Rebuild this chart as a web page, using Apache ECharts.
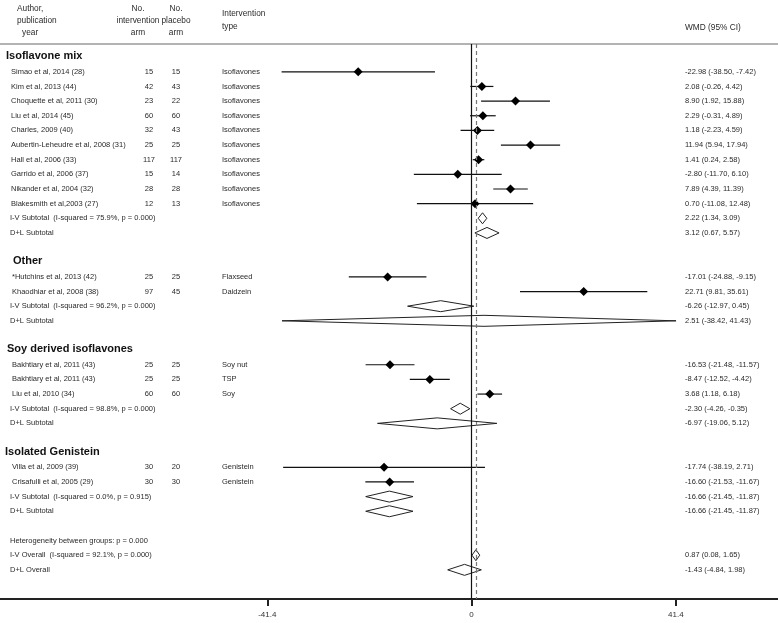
<!DOCTYPE html>
<html>
<head>
<meta charset="utf-8">
<script src="https://cdn.jsdelivr.net/npm/echarts@6/dist/echarts.min.js"></script>
<style>html,body{margin:0;padding:0;background:#fff}#c{width:778px;height:623px}</style>
</head>
<body>
<div id="c"></div>
<script>
// ---------- data ----------
const groups = ['Isoflavone mix', 'Other', 'Soy derived isoflavones', 'Isolated Genistein'];
const studyGroup = [0,0,0,0,0,0,0,0,0,0, 1,1, 2,2,2, 3,3];
const studyLabels = [
  'Simao et al, 2014 (28)', 'Kim et al, 2013 (44)', 'Choquette et al, 2011 (30)', 'Liu et al, 2014 (45)',
  'Charles, 2009 (40)', 'Aubertin-Leheudre et al, 2008 (31)', 'Hall et al, 2006 (33)', 'Garrido et al, 2006 (37)',
  'Nikander et al, 2004 (32)', 'Blakesmith et al,2003 (27)',
  '*Hutchins et al, 2013 (42)', 'Khaodhiar et al, 2008 (38)',
  'Bakhtiary et al, 2011 (43)', 'Bakhtiary et al, 2011 (43)', 'Liu et al, 2010 (34)',
  'Villa et al, 2009 (39)', 'Crisafulli et al, 2005 (29)'
];
const nIntervention = [15,42,23,60,32,25,117,15,28,12, 25,97, 25,25,60, 30,30];
const nPlacebo      = [15,43,22,60,43,25,117,14,28,13, 25,45, 25,25,60, 20,30];
const interventionType = ['Isoflavones','Isoflavones','Isoflavones','Isoflavones','Isoflavones','Isoflavones',
  'Isoflavones','Isoflavones','Isoflavones','Isoflavones','Flaxseed','Daidzein','Soy nut','TSP','Soy','Genistein','Genistein'];
const wmd    = [-22.98, 2.08, 8.90, 2.29, 1.18, 11.94, 1.41, -2.80, 7.89, 0.70, -17.01, 22.71, -16.53, -8.47, 3.68, -17.74, -16.60];
const ciLow  = [-38.50, -0.26, 1.92, -0.31, -2.23, 5.94, 0.24, -11.70, 4.39, -11.08, -24.88, 9.81, -21.48, -12.52, 1.18, -38.19, -21.53];
const ciHigh = [-7.42, 4.42, 15.88, 4.89, 4.59, 17.94, 2.58, 6.10, 11.39, 12.48, -9.15, 35.61, -11.57, -4.42, 6.18, 2.71, -11.67];

const ivLabels = ['I-V Subtotal  (I-squared = 75.9%, p = 0.000)', 'I-V Subtotal  (I-squared = 96.2%, p = 0.000)',
  'I-V Subtotal  (I-squared = 98.8%, p = 0.000)', 'I-V Subtotal  (I-squared = 0.0%, p = 0.915)'];
const ivEst  = [2.22, -6.26, -2.30, -16.66];
const ivLow  = [1.34, -12.97, -4.26, -21.45];
const ivHigh = [3.09, 0.45, -0.35, -11.87];
const dlLabel = 'D+L Subtotal';
const dlEst  = [3.12, 2.51, -6.97, -16.66];
const dlLow  = [0.67, -38.42, -19.06, -21.45];
const dlHigh = [5.57, 41.43, 5.12, -11.87];

const heterogeneityText = 'Heterogeneity between groups: p = 0.000';
const overallIVLabel = 'I-V Overall  (I-squared = 92.1%, p = 0.000)';
const overallIV = [0.87, 0.08, 1.65];
const overallDLLabel = 'D+L Overall';
const overallDL = [-1.43, -4.84, 1.98];

const xTicks = [-41.4, 0, 41.4];
const headerAuthor = ['Author,', 'publication', 'year'];
const headerInt = ['No.', 'intervention', 'arm'];
const headerPla = ['No.', 'placebo', 'arm'];
const headerType = ['Intervention', 'type'];
const headerWMD = 'WMD (95% CI)';

// layout only (not data)
const headingX = [6, 13, 7, 5];

// ---------- build table rows ----------
const fmt = v => v.toFixed(2);
const ciText = (e, l, h) => `${fmt(e)} (${fmt(l)}, ${fmt(h)})`;
const headings = [], studyRows = [], summaryRows = [], textRows = [];
let r = -1;
groups.forEach((g, gi) => {
  headings.push({ row: r, text: g, gi }); r++;
  studyGroup.forEach((sg, i) => {
    if (sg !== gi) return;
    studyRows.push([wmd[i], ciLow[i], ciHigh[i], r, 0]);
    textRows.push({ row: r, label: studyLabels[i], ni: nIntervention[i], np: nPlacebo[i], type: interventionType[i], ci: ciText(wmd[i], ciLow[i], ciHigh[i]), indent: gi === 0 ? 11 : 12 });
    r++;
  });
  summaryRows.push([ivEst[gi], ivLow[gi], ivHigh[gi], r, 1]);
  textRows.push({ row: r, label: ivLabels[gi], ci: ciText(ivEst[gi], ivLow[gi], ivHigh[gi]) }); r++;
  summaryRows.push([dlEst[gi], dlLow[gi], dlHigh[gi], r, 1]);
  textRows.push({ row: r, label: dlLabel, ci: ciText(dlEst[gi], dlLow[gi], dlHigh[gi]) }); r++;
  r++;
});
textRows.push({ row: r, label: heterogeneityText }); r++;
summaryRows.push([overallIV[0], overallIV[1], overallIV[2], r, 1]);
textRows.push({ row: r, label: overallIVLabel, ci: ciText(overallIV[0], overallIV[1], overallIV[2]) }); r++;
summaryRows.push([overallDL[0], overallDL[1], overallDL[2], r, 1]);
textRows.push({ row: r, label: overallDLLabel, ci: ciText(overallDL[0], overallDL[1], overallDL[2]) }); r++;

// ---------- chart ----------
const FONT = '"Liberation Sans", Arial, Helvetica, sans-serif';
const chart = echarts.init(document.getElementById('c'), null, { renderer: 'canvas' });

function renderItem(params, api) {
  const e = api.value(0), lo = api.value(1), hi = api.value(2), row = api.value(3), kind = api.value(4);
  const pe = api.coord([e, row]), pl = api.coord([lo, row]), ph = api.coord([hi, row]);
  const y = pe[1];
  if (kind === 0) {
    const d = 4.5;
    return {
      type: 'group',
      children: [
        { type: 'line', shape: { x1: pl[0], y1: y, x2: ph[0], y2: y }, style: { stroke: '#111', lineWidth: 1.2 } },
        { type: 'polygon', shape: { points: [[pe[0] - d, y], [pe[0], y - d], [pe[0] + d, y], [pe[0], y + d]] }, style: { fill: '#000' } }
      ]
    };
  }
  const h = 5.5;
  return {
    type: 'polygon',
    shape: { points: [[pl[0], y], [pe[0], y - h], [ph[0], y], [pe[0], y + h]] },
    style: { fill: 'rgba(255,255,255,0)', stroke: '#222', lineWidth: 1 }
  };
}

chart.setOption({
  animation: false,
  backgroundColor: '#fff',
  grid: { left: 0, right: 0, top: 44, bottom: 24, containLabel: false },
  xAxis: {
    type: 'value', min: -95.56, max: 62.09,
    splitLine: { show: false },
    axisLine: { onZero: false, lineStyle: { color: '#222', width: 2 } },
    axisTick: { show: true, customValues: xTicks, length: 7, lineStyle: { color: '#222', width: 2 } },
    axisLabel: { customValues: xTicks, formatter: v => String(v), color: '#333', fontSize: 8, fontFamily: FONT, margin: 12 }
  },
  yAxis: { type: 'value', inverse: true, min: -1.898, max: 35.99, show: false, splitLine: { show: false } },
  series: [
    {
      type: 'custom', name: 'studies', renderItem, clip: false,
      encode: { x: [0, 1, 2], y: 3 },
      data: studyRows,
      markLine: {
        silent: true, symbol: 'none', label: { show: false },
        data: [
          { xAxis: 0, lineStyle: { color: '#111', width: 1.2, type: 'solid' } },
          { xAxis: overallIV[0], lineStyle: { color: '#777', width: 1.2, type: [4, 3] } }
        ]
      },
      z: 3
    },
    {
      type: 'custom', name: 'summaries', renderItem, clip: false,
      encode: { x: [0, 1, 2], y: 3 },
      data: summaryRows, z: 4
    }
  ]
});

// ---------- table text ----------
const yOf = row => chart.convertToPixel({ gridIndex: 0 }, [0, row])[1];
const g = [];
const txt = (text, x, y, font, align, fill) => g.push({
  type: 'text', silent: true,
  style: { text, x, y, font, textAlign: align || 'left', textVerticalAlign: 'middle', fill: fill || '#2a2a2a' }
});
const HF = '8.3px ' + FONT, RF = '7.5px ' + FONT, BF = 'bold 11px ' + FONT;
// header
txt(headerAuthor[0], 17, 9, HF); txt(headerAuthor[1], 17, 21, HF); txt(headerAuthor[2], 22, 33, HF);
headerInt.forEach((t, i) => txt(t, 138, 9 + i * 12, HF, 'center'));
headerPla.forEach((t, i) => txt(t, 176, 9 + i * 12, HF, 'center'));
headerType.forEach((t, i) => txt(t, 222, 14 + i * 13, HF));
txt(headerWMD, 685, 28, HF);
g.push({ type: 'line', silent: true, shape: { x1: 0, y1: 44, x2: 778, y2: 44 }, style: { stroke: '#9a9a9a', lineWidth: 1.5 } });
// headings
headings.forEach(h => txt(h.text, headingX[h.gi], yOf(h.row) - 1, BF, 'left', '#111'));
// rows
textRows.forEach(t => {
  const y = yOf(t.row);
  txt(t.label, t.indent || 10, y, RF);
  if (t.ni !== undefined) {
    txt(String(t.ni), 149, y, RF, 'center');
    txt(String(t.np), 176, y, RF, 'center');
    txt(t.type, 222, y, RF);
  }
  if (t.ci) txt(t.ci, 685, y, RF);
});
chart.setOption({ graphic: g });
</script>
</body>
</html>
